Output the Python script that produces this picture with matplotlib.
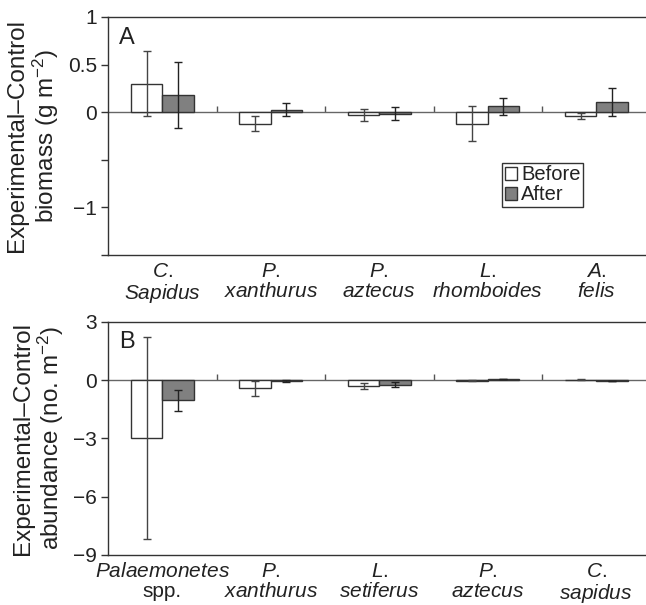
import matplotlib
matplotlib.use("Agg")
import matplotlib.pyplot as plt
import numpy as np

plt.rcParams['font.family'] = ['Liberation Sans', 'DejaVu Sans']
plt.rcParams['mathtext.fontset'] = 'custom'
plt.rcParams['mathtext.rm'] = 'Liberation Sans'
plt.rcParams['mathtext.it'] = 'Liberation Sans:italic'
plt.rcParams['mathtext.bf'] = 'Liberation Sans:bold'

# ---- data ----
species_a = ["$\\mathit{C.}$\n$\\mathit{Sapidus}$", "$\\mathit{P.}$\n$\\mathit{xanthurus}$",
             "$\\mathit{P.}$\n$\\mathit{aztecus}$", "$\\mathit{L.}$\n$\\mathit{rhomboides}$",
             "$\\mathit{A.}$\n$\\mathit{felis}$"]
before_a = [0.30, -0.12, -0.03, -0.12, -0.04]
before_a_err = [0.34, 0.08, 0.065, 0.18, 0.03]
after_a = [0.18, 0.025, -0.015, 0.06, 0.105]
after_a_err = [0.35, 0.07, 0.065, 0.09, 0.15]

species_b = ["$\\mathit{Palaemonetes}$\nspp.", "$\\mathit{P.}$\n$\\mathit{xanthurus}$",
             "$\\mathit{L.}$\n$\\mathit{setiferus}$", "$\\mathit{P.}$\n$\\mathit{aztecus}$",
             "$\\mathit{C.}$\n$\\mathit{sapidus}$"]
before_b = [-3.0, -0.43, -0.29, -0.03, 0.02]
before_b_err = [5.2, 0.38, 0.15, 0.02, 0.02]
after_b = [-1.05, -0.05, -0.25, 0.05, -0.06]
after_b_err = [0.55, 0.05, 0.13, 0.01, 0.01]

yticks_a = [1, 0.5, 0, -0.5, -1, -1.5]
yticklabels_a = ["1", "0.5", "0", "", "\u22121", ""]
yticks_b = [3, 0, -3, -6, -9]
yticklabels_b = ["3", "0", "\u22123", "\u22126", "\u22129"]

ylabel_a = "Experimental\u2013Control\nbiomass (g m$^{-2}$)"
ylabel_b = "Experimental\u2013Control\nabundance (no. m$^{-2}$)"

# ---- style ----
EDGE = '#333333'
GREY = '#808080'
BW = 0.29

fig = plt.figure(figsize=(6.46, 6.05), dpi=100)
ax_a = fig.add_axes([108/646, 350/605, 542.5/646, 238/605])
ax_b = fig.add_axes([108/646, 50/605, 542.5/646, 233.3/605])


def panel(ax, labels, bef, bef_e, aft, aft_e, ylim, yt, ytl, ylabel, letter, legend=False):
    x = np.arange(len(labels)) + 0.5
    ax.bar(x - BW/2, bef, BW, color='white', edgecolor=EDGE, linewidth=1.0, label='Before', zorder=2)
    ax.bar(x + BW/2, aft, BW, color=GREY, edgecolor=EDGE, linewidth=1.0, label='After', zorder=2)
    ax.errorbar(x - BW/2, bef, yerr=bef_e, fmt='none', ecolor='#444444', elinewidth=1.0,
                capsize=3, capthick=1.0, zorder=3)
    ax.errorbar(x + BW/2, aft, yerr=aft_e, fmt='none', ecolor='#222222', elinewidth=1.0,
                capsize=3, capthick=1.0, zorder=3)
    ax.set_xlim(0, len(labels))
    ax.set_ylim(*ylim)
    ax.set_yticks(yt)
    ax.set_yticklabels(ytl)
    ax.set_xticks(x)
    ax.set_xticklabels(labels)
    for t in ax.get_xticklabels():
        t.set_linespacing(1.05)
    ax.tick_params(axis='x', length=0, pad=5, labelsize=15, colors='#222222')
    ax.tick_params(axis='y', direction='out', length=5, width=1, color=EDGE, labelsize=15,
                   labelcolor='#222222', pad=3)
    for s in ['left', 'top', 'bottom']:
        ax.spines[s].set_color(EDGE)
        ax.spines[s].set_linewidth(1.0)
    ax.spines['right'].set_visible(False)
    ax.set_ylabel(ylabel, fontsize=17.5, color='#222222', labelpad=5, linespacing=1.1)
    ax.text(0.02, 0.96, letter, transform=ax.transAxes, fontsize=17, va='top', ha='left',
            color='#222222')
    # zero line with category boundary ticks
    frac = (0 - ylim[0]) / (ylim[1] - ylim[0])
    sec = ax.secondary_xaxis(frac)
    sec.set_xticks(np.arange(1, len(labels)))
    sec.tick_params(direction='out', length=4, width=1, color='#555555', labelbottom=False,
                    labeltop=False)
    for s in sec.spines.values():
        s.set_color('#666666')
        s.set_linewidth(1.0)
    if legend:
        leg = ax.legend(loc='upper left', bbox_to_anchor=(0.727, 0.387), fontsize=14.5,
                        handlelength=0.6, handleheight=0.6, handletextpad=0.2,
                        borderpad=0.12, borderaxespad=0, labelspacing=0.05,
                        fancybox=False, framealpha=1, edgecolor=EDGE)
        leg.get_frame().set_linewidth(1.0)
        for t in leg.get_texts():
            t.set_color('#222222')


panel(ax_a, species_a, before_a, before_a_err, after_a, after_a_err, (-1.5, 1),
      yticks_a, yticklabels_a, ylabel_a, 'A', legend=True)
panel(ax_b, species_b, before_b, before_b_err, after_b, after_b_err, (-9, 3),
      yticks_b, yticklabels_b, ylabel_b, 'B')

fig.savefig('out.png', dpi=100)
